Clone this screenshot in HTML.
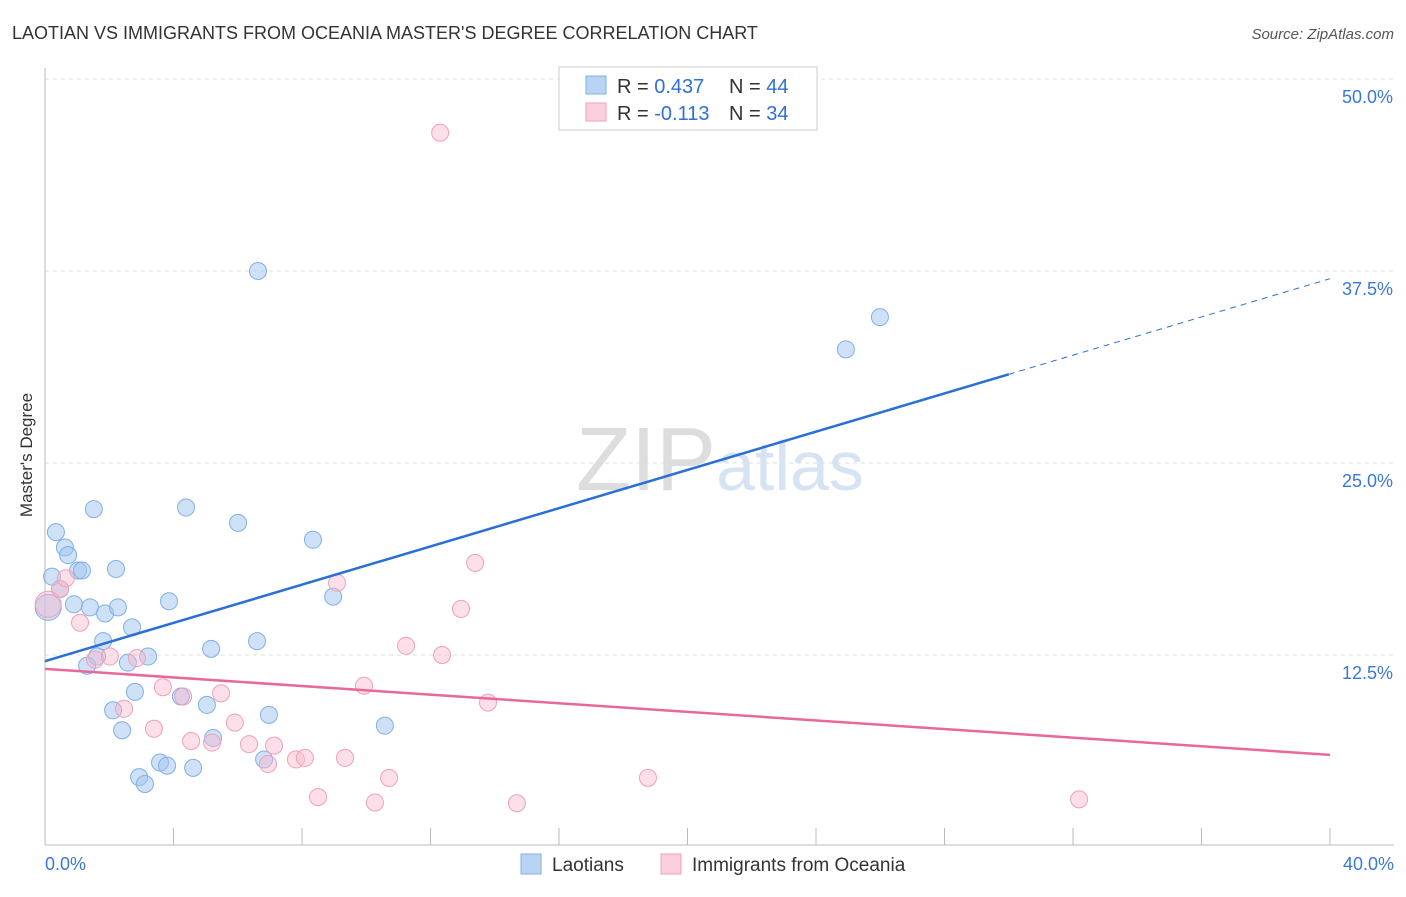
<!DOCTYPE html>
<html><head><meta charset="utf-8"><style>
body{margin:0;background:#fff;font-family:"Liberation Sans",sans-serif}
svg text{font-family:"Liberation Sans",sans-serif}
</style></head><body>
<svg id="chart" width="1406" height="892">
<text x="12" y="39" font-size="18" fill="#333">LAOTIAN VS IMMIGRANTS FROM OCEANIA MASTER'S DEGREE CORRELATION CHART</text>
<text x="1394" y="39" font-size="15" fill="#555" text-anchor="end" font-style="italic">Source: ZipAtlas.com</text>
<text x="32" y="455" font-size="17" fill="#333" text-anchor="middle" transform="rotate(-90 32 455)">Master's Degree</text>
<g id="grid"></g>
<text x="720" y="490" font-size="90" fill="#ddd" text-anchor="middle" font-family="Liberation Serif">ZIP<tspan fill="#d5e3f3" font-family="Liberation Sans" font-size="70">atlas</tspan></text>
<g id="marks"></g>
<g>
<rect x="559" y="67" width="258" height="63" fill="#fff" stroke="#ccc"/>
<rect x="586" y="76" width="20" height="18" fill="#b9d3f5" stroke="#7fb0e6"/>
<text x="617" y="93" font-size="20" fill="#333">R = <tspan fill="#2f6fd6">0.437</tspan></text>
<text x="729" y="93" font-size="20" fill="#333">N = <tspan fill="#2f6fd6">44</tspan></text>
<rect x="586" y="103" width="20" height="18" fill="#fbcfdc" stroke="#f0a0b8"/>
<text x="617" y="120" font-size="20" fill="#333">R = <tspan fill="#2f6fd6">-0.113</tspan></text>
<text x="729" y="120" font-size="20" fill="#333">N = <tspan fill="#2f6fd6">34</tspan></text>
</g>
<g>
<rect x="521" y="854" width="20" height="20" fill="#b9d3f5" stroke="#7fb0e6"/>
<text x="552" y="871" font-size="19" fill="#333">Laotians</text>
<rect x="661" y="854" width="20" height="20" fill="#fbcfdc" stroke="#f0a0b8"/>
<text x="692" y="871" font-size="19" fill="#333">Immigrants from Oceania</text>
</g>
</svg>
<script>
const yTicks=[12.5,25,37.5,50];
const yTickLabels=["12.5%","25.0%","37.5%","50.0%"];
const xTickCount=[0,4,8,12,16,20,24,28,32,36,40];
const xLabels=["0.0%","40.0%"];
const blueX=[0.34,0.62,0.72,0.22,0.47,0.90,1.03,1.15,1.40,1.52,1.87,2.21,2.27,1.81,2.71,1.62,1.31,2.58,3.21,3.86,4.39,6.01,8.34,6.63,6.60,5.17,2.80,4.23,5.04,2.12,2.40,6.97,10.58,5.23,6.82,3.58,3.80,4.61,2.93,3.11,8.97,24.93,25.99,0.10];
const blueY=[20.5,19.5,19.0,17.6,16.8,15.8,18.0,18.0,15.6,22.0,15.2,18.1,15.6,13.4,14.3,12.4,11.8,12.0,12.4,16.0,22.1,21.1,20.0,37.5,13.4,12.9,10.1,9.8,9.25,8.9,7.6,8.6,7.9,7.1,5.7,5.5,5.3,5.15,4.55,4.1,16.3,32.4,34.5,15.6];
const pinkX=[12.3,0.10,0.47,0.65,1.09,1.56,2.02,2.86,3.67,4.30,5.48,2.46,3.39,4.55,5.20,5.91,6.35,7.13,6.94,7.81,8.09,9.34,9.09,13.39,12.95,11.24,12.36,9.93,13.79,8.50,10.27,10.71,14.69,18.77,32.19];
const pinkY=[46.5,15.8,16.8,17.5,14.6,12.2,12.4,12.3,10.4,9.8,10.0,9.0,7.7,6.9,6.8,8.1,6.7,6.6,5.4,5.7,5.8,5.8,17.2,18.5,15.5,13.1,12.5,10.5,9.4,3.25,2.9,4.5,2.85,4.5,3.1];
const blueLine=[12.1,37.0], pinkLine=[11.6,6.0];
const X=v=>45+v*32.125, Y=v=>847-v*15.36;
const NS="http://www.w3.org/2000/svg";
const svg=document.getElementById('chart'),grid=document.getElementById('grid'),marks=document.getElementById('marks');
function mk(p,tag,a){const e=document.createElementNS(NS,tag);for(const k in a)e.setAttribute(k,a[k]);p.appendChild(e);return e;}
yTicks.forEach((t,i)=>{
 const l=mk(grid,'line',{x1:45,x2:1394,y1:Y(t),y2:Y(t),stroke:'#ddd','stroke-dasharray':'4,4'});
 
 
 const tx=mk(grid,'text',{x:1393,y:Y(t)+24,'font-size':18,fill:'#3a78d6','text-anchor':'end'});
 tx.textContent=yTickLabels[i];
 
 
});
const ax=mk(grid,'line',{x1:45,x2:1394,y1:845,y2:845,stroke:'#bbb'});


const ay=mk(grid,'line',{x1:45,x2:45,y1:68,y2:845,stroke:'#bbb'});


xTickCount.forEach(t=>{const l=mk(grid,'line',{x1:X(t),x2:X(t),y1:828,y2:845,stroke:'#bbb'});
 
 });
[[0,'start',45],[40,'end',1394]].forEach((d,i)=>{const t=mk(grid,'text',{x:d[2],y:870,'font-size':18,fill:'#3a78d6','text-anchor':d[1]});t.textContent=xLabels[i];
 
 });
blueX.forEach((x,i)=>{const c=mk(marks,'circle',{cx:X(x),cy:Y(blueY[i]),r:i==43?13:8.5,fill:'rgba(160,196,240,0.5)',stroke:'#7fb0e6','stroke-width':1});
 
 });
pinkX.forEach((x,i)=>{const c=mk(marks,'circle',{cx:X(x),cy:Y(pinkY[i]),r:i==1?13:8.5,fill:'rgba(248,185,205,0.45)',stroke:'#f0a0b8','stroke-width':1});
 
 });
const bAt=x=>blueLine[0]+(blueLine[1]-blueLine[0])*x/40;
const bl=mk(marks,'line',{x1:X(0),y1:Y(bAt(0)),x2:X(30),y2:Y(bAt(30)),stroke:'#2a6fd8','stroke-width':2.5});


const bd=mk(marks,'line',{x1:X(30),y1:Y(bAt(30)),x2:X(40),y2:Y(bAt(40)),stroke:'#2a6fd8','stroke-width':1,'stroke-dasharray':'6,5'});


const pl=mk(marks,'line',{x1:X(0),y1:Y(pinkLine[0]),x2:X(40),y2:Y(pinkLine[1]),stroke:'#e8689a','stroke-width':2.5});


</script>
</body></html>
